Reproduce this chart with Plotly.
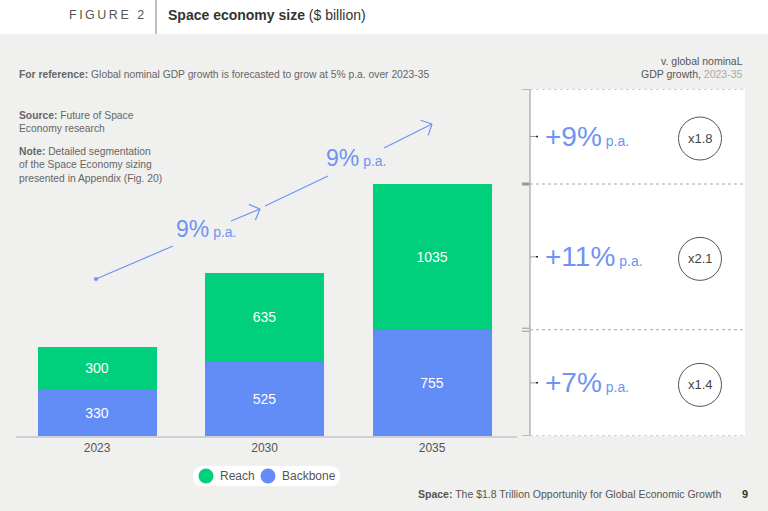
import math
import plotly.graph_objects as go

W, H = 768, 511

# data
years = ["2023", "2030", "2035"]
backbone = [330, 525, 755]
reach = [300, 635, 1035]
totals = [630, 1160, 1790]
total_labels = ["630", "1,160", "1,790"]

cagr_labels = ["9%", "9%"]
segment_growth = ["+9%", "+11%", "+7%"]   # total, reach, backbone (2023-35)
vs_gdp = ["x1.8", "x2.1", "x1.4"]
legend_names = ["Reach", "Backbone"]

GREEN = "#00cf7b"
BLUE = "#628cf6"
TXT_BLUE = "#6f93f5"
BG = "#f0f0ee"
FONT = "Liberation Sans"
Y_MAX = 2465


def px(x):
    return x / W


def py(y):
    return 1 - y / H


fig = go.Figure()
fig.add_bar(x=years, y=backbone, name="Backbone", marker=dict(color=BLUE, line_width=0),
            text=backbone, textposition="inside", insidetextanchor="middle",
            textfont=dict(color="white", size=14), width=0.71)
fig.add_bar(x=years, y=reach, name="Reach", marker=dict(color=GREEN, line_width=0),
            text=reach, textposition="inside", insidetextanchor="middle",
            textfont=dict(color="white", size=14), width=0.71)

shapes = []
ann = []

# header band
shapes.append(dict(type="rect", xref="paper", yref="paper", x0=0, x1=1, y0=py(34), y1=1,
                   fillcolor="white", line_width=0, layer="below"))
shapes.append(dict(type="line", xref="paper", yref="paper", x0=px(156), x1=px(156),
                   y0=py(34), y1=1, line=dict(color="#aaaaaa", width=1.5)))
ann.append(dict(text="F\u2009I\u2009G\u2009U\u2009R\u2009E\u2009 \u20092", x=px(146), y=py(15),
                xanchor="right", font=dict(size=12.5, color="#555")))
ann.append(dict(text="<b>Space economy size</b> ($ billion)", x=px(166), y=py(15),
                xanchor="left", font=dict(size=14, color="#333")))

# notes
ann.append(dict(text="<b>For reference:</b> Global nominal GDP growth is forecasted to grow at 5% p.a. over 2023-35",
                x=px(17), y=py(74), xanchor="left", font=dict(size=10.3, color="#666")))
ann.append(dict(text="<b>Source:</b> Future of Space<br>Economy research",
                x=px(17), y=py(108), xanchor="left", yanchor="top", align="left",
                font=dict(size=10.3, color="#666")))
ann.append(dict(text="<b>Note:</b> Detailed segmentation<br>of the Space Economy sizing<br>presented in Appendix (Fig. 20)",
                x=px(17), y=py(144), xanchor="left", yanchor="top", align="left",
                font=dict(size=10.3, color="#666")))

# totals above bars
for yr, tot, lab in zip(years, totals, total_labels):
    ann.append(dict(text=lab, x=yr, y=tot, xref="x", yref="y", yanchor="bottom", yshift=5,
                    font=dict(size=14, color="#444")))

# growth arrow
def seg(p, q, width=1.2):
    shapes.append(dict(type="line", xref="paper", yref="paper", x0=px(p[0]), y0=py(p[1]),
                       x1=px(q[0]), y1=py(q[1]), line=dict(color=TXT_BLUE, width=width)))


def chevron(p, q):
    dx, dy = q[0] - p[0], q[1] - p[1]
    n = math.hypot(dx, dy)
    bx, by = -dx / n, -dy / n
    for a in (math.radians(45), math.radians(-45)):
        ex = bx * math.cos(a) - by * math.sin(a)
        ey = bx * math.sin(a) + by * math.cos(a)
        seg(q, (q[0] + 12 * ex, q[1] + 12 * ey))


seg((96, 279), (173, 246))
seg((231, 221), (260, 209))
chevron((231, 221), (260, 209))
seg((265, 206), (328, 176))
seg((384, 148), (432, 124))
chevron((384, 148), (432, 124))
shapes.append(dict(type="circle", xref="paper", yref="paper", x0=px(94), x1=px(98),
                   y0=py(281), y1=py(277), fillcolor=TXT_BLUE, line_width=0))
for lab, (lx, ly) in zip(cagr_labels, [(174, 229), (324, 158)]):
    ann.append(dict(text=lab + "<span style='font-size:14px'> p.a.</span>", x=px(lx), y=py(ly),
                    xanchor="left", font=dict(size=23, color=TXT_BLUE)))

# right panel
levels = [Y_MAX, totals[2], backbone[2], 0]
shapes.append(dict(type="rect", xref="paper", yref="y", x0=px(530), x1=px(745), y0=0, y1=Y_MAX,
                   fillcolor="white", line_width=0, layer="below"))
for i, lv in enumerate(levels):
    shapes.append(dict(type="line", xref="paper", yref="y", x0=px(530), x1=px(745), y0=lv, y1=lv,
                       line=dict(color="#a8a8a8", width=1, dash="dot")))
    w = 3 if i == 1 else 1.2
    if i == 2:
        for off in (-1.5, 1.5):
            shapes.append(dict(type="line", xref="paper", yref="y", ysizemode="pixel", yanchor=lv,
                               x0=px(522), x1=px(530), y0=off, y1=off,
                               line=dict(color="#999", width=1)))
    else:
        shapes.append(dict(type="line", xref="paper", yref="y", x0=px(522), x1=px(530), y0=lv, y1=lv,
                           line=dict(color="#999", width=w)))
shapes.append(dict(type="line", xref="paper", yref="y", x0=px(530), x1=px(530), y0=0, y1=Y_MAX,
                   line=dict(color="#b5b5b5", width=1.5)))

for i in range(3):
    mid = (levels[i] + levels[i + 1]) / 2
    shapes.append(dict(type="line", xref="paper", yref="y", x0=px(530), x1=px(536), y0=mid, y1=mid,
                       line=dict(color="#999", width=1)))
    shapes.append(dict(type="line", xref="paper", yref="y", x0=px(536), x1=px(538), y0=mid, y1=mid,
                       line=dict(color="#222", width=1.5)))
    ann.append(dict(text=segment_growth[i] + "<span style='font-size:14px'> p.a.</span>",
                    x=px(543), y=mid, yref="y", xanchor="left",
                    font=dict(size=28, color=TXT_BLUE)))
    shapes.append(dict(type="circle", xref="paper", yref="y", xsizemode="pixel", ysizemode="pixel",
                       xanchor=px(700), yanchor=mid, x0=-21.5, x1=21.5, y0=-23.5, y1=19.5,
                       line=dict(color="#555", width=1), fillcolor="white"))
    ann.append(dict(text=vs_gdp[i], x=px(700), y=mid, yref="y", yshift=-2, xanchor="center",
                    font=dict(size=13, color="#444")))

ann.append(dict(text="v. global nominaL", x=px(745), y=py(61), xanchor="right",
                font=dict(size=10.5, color="#555")))
ann.append(dict(text="GDP growth, <span style='color:#aaaaaa'>2023-35</span>", x=px(745), y=py(74),
                xanchor="right", font=dict(size=10.5, color="#555")))

# legend pill with round keys
x0, x1, y0, y1, r = 193, 340, 466, 486, 10
pts = [f"M{px(x0 + r)},{py(y0)}", f"L{px(x1 - r)},{py(y0)}",
       f"Q{px(x1)},{py(y0)} {px(x1)},{py((y0 + y1) / 2)}",
       f"Q{px(x1)},{py(y1)} {px(x1 - r)},{py(y1)}", f"L{px(x0 + r)},{py(y1)}",
       f"Q{px(x0)},{py(y1)} {px(x0)},{py((y0 + y1) / 2)}",
       f"Q{px(x0)},{py(y0)} {px(x0 + r)},{py(y0)}", "Z"]
shapes.append(dict(type="path", xref="paper", yref="paper", path=" ".join(pts),
                   fillcolor="white", line_width=0))
for name, col, cx in zip(legend_names, [GREEN, BLUE], [206, 268]):
    shapes.append(dict(type="circle", xref="paper", yref="paper", x0=px(cx - 7.5), x1=px(cx + 7.5),
                       y0=py(483.5), y1=py(468.5), fillcolor=col, line_width=0))
    ann.append(dict(text=name, x=px(cx + 12), y=py(476), xanchor="left",
                    font=dict(size=12, color="#555")))

# footer
ann.append(dict(text="<b>Space:</b> The $1.8 Trillion Opportunity for Global Economic Growth",
                x=px(723), y=py(494), xanchor="right", font=dict(size=10.5, color="#555")))
ann.append(dict(text="<b>9</b>", x=px(745), y=py(494), xanchor="center",
                font=dict(size=11, color="#333")))

for a in ann:
    a.setdefault("xref", "paper")
    a.setdefault("yref", "paper")
    a.setdefault("yanchor", "middle")
    a["showarrow"] = False

fig.update_layout(
    width=W, height=H, margin=dict(l=0, r=0, t=0, b=0),
    paper_bgcolor=BG, plot_bgcolor="rgba(0,0,0,0)",
    font=dict(family=FONT, color="#555"),
    barmode="stack",
    shapes=shapes, annotations=ann,
    xaxis=dict(domain=[px(16), px(517)], range=[-0.484, 2.507], type="category",
               showline=True, linecolor="#d0d0d0", linewidth=2, ticks="",
               tickfont=dict(size=12, color="#555"), showgrid=False, fixedrange=True),
    yaxis=dict(domain=[py(436), py(89)], range=[0, Y_MAX], visible=False, fixedrange=True),
    showlegend=False,
)

fig.write_html("out.html", config={"displayModeBar": False},
               post_script="document.body.style.margin='0';")
